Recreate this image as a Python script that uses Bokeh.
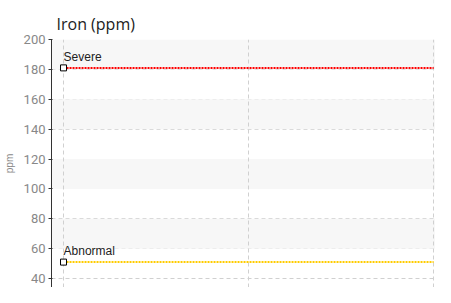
from bokeh.plotting import figure
from bokeh.models import Range1d, Grid, FixedTicker, BoxAnnotation
from bokeh.core.properties import value
from bokeh.embed import file_html
from bokeh.resources import INLINE

samples = [0, 1, 2]
severe = [181, 181, 181]
abnormal = [51, 51, 51]
y_ticks = [40, 60, 80, 100, 120, 140, 160, 180, 200]
bands = [(60, 80), (100, 120), (140, 160), (180, 200)]

p = figure(width=435, height=287, output_backend="svg", toolbar_location=None,
           x_axis_location=None, x_range=Range1d(-0.065, 2.01), y_range=Range1d(34, 200),
           min_border_left=43, min_border_right=0, min_border_top=39, min_border_bottom=0)
p.outline_line_color = None
p.background_fill_color = "white"
# remove any default x grid
p.center = [r for r in p.center if not (isinstance(r, Grid) and r.dimension == 0)]

p.title.text = "Iron (ppm)"
p.title.text_font = "Open Sans"
p.title.text_font_size = "16px"
p.title.text_font_style = "normal"
p.title.text_color = "#222222"
p.title.offset = 5

for b, t in bands:
    p.add_layout(BoxAnnotation(bottom=b, top=t, fill_color="#f7f7f7", fill_alpha=1,
                               line_color=None, level="underlay"))

ax = p.yaxis[0]
ax.ticker = FixedTicker(ticks=y_ticks)
ax.axis_label = "ppm"
ax.axis_label_text_font = "Liberation Sans"
ax.axis_label_text_font_size = "10px"
ax.axis_label_text_font_style = "normal"
ax.axis_label_text_color = "#888888"
ax.axis_label_standoff = 6
ax.major_label_text_font = "Roboto"
ax.major_label_text_font_size = "13px"
ax.major_label_text_color = "#888888"
ax.major_label_standoff = 3
ax.axis_line_color = "#333333"
ax.major_tick_line_color = "#333333"
ax.major_tick_out = 3
ax.major_tick_in = 1
ax.minor_tick_line_color = None

p.ygrid.grid_line_color = "#d0d0d0"
p.ygrid.grid_line_dash = "4 3"
p.ygrid.ticker = FixedTicker(ticks=y_ticks)

xg = Grid(dimension=0, ticker=FixedTicker(ticks=samples), grid_line_color="#d0d0d0",
          grid_line_dash="4 3")
p.add_layout(xg)

p.line(samples, severe, line_color="#ff0000", line_width=2, line_dash="2 1")
p.line(samples, abnormal, line_color="#ffcc00", line_width=2, line_dash="2 1")

p.scatter([samples[0]], [severe[0]], marker="square", size=6, fill_color="white",
          line_color="black", line_width=1)
p.scatter([samples[0]], [abnormal[0]], marker="square", size=6, fill_color="white",
          line_color="black", line_width=1)

p.text(x=[samples[0], samples[0]], y=[severe[0], abnormal[0]], text=["Severe", "Abnormal"],
       text_baseline="bottom", y_offset=-4, x_offset=0,
       text_font=value("Liberation Sans"), text_font_size="12px", text_color="#222222")

open("out.html", "w").write(file_html(p, INLINE))
